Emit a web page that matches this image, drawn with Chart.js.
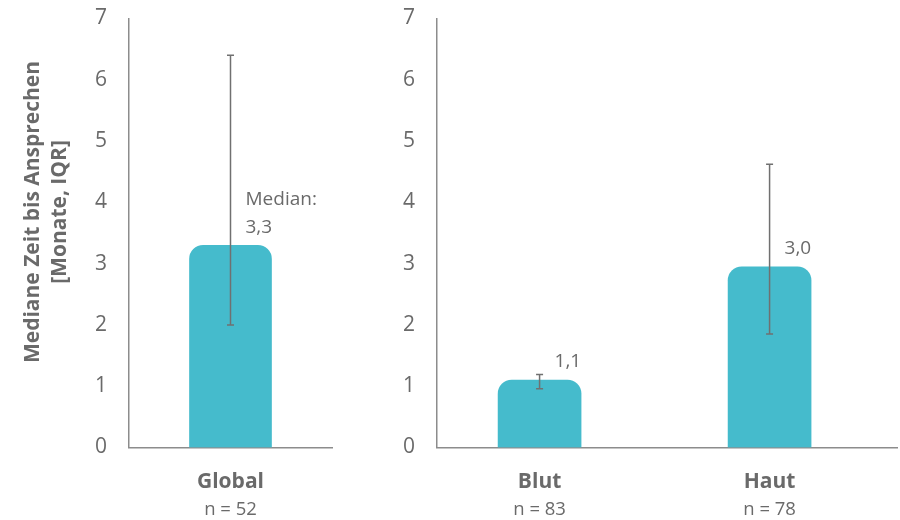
<!DOCTYPE html>
<html>
<head>
<meta charset="utf-8">
<script src="https://cdn.jsdelivr.net/npm/chart.js@4.4.1/dist/chart.umd.min.js"></script>
<style>
  html, body { margin: 0; padding: 0; background: #ffffff; }
  body { width: 900px; height: 520px; position: relative; overflow: hidden; }
  #leftWrap { position: absolute; left: 0; top: 0; width: 380px; height: 520px; }
  #rightWrap { position: absolute; left: 380px; top: 0; width: 520px; height: 520px; }
</style>
</head>
<body>
<div id="leftWrap"><canvas id="leftChart"></canvas></div>
<div id="rightWrap"><canvas id="rightChart"></canvas></div>
<script>
// ---- Data ----
const yTitleLines = ['Mediane Zeit bis Ansprechen', '[Monate, IQR]'];
const yMin = 0;
const yMax = 7;
const yStep = 1;

const leftCategories = ['Global'];
const leftN = ['n = 52'];
const leftMedian = [3.3];
const leftQ1 = [2.0];
const leftQ3 = [6.4];
const leftValueLabels = [['Median:', '3,3']];

const rightCategories = ['Blut', 'Haut'];
const rightN = ['n = 83', 'n = 78'];
const rightMedian = [1.1, 2.95];
const rightQ1 = [0.96, 1.85];
const rightQ3 = [1.19, 4.62];
const rightValueLabels = [['1,1'], ['3,0']];

// ---- Styles ----
const FONT = "'Open Sans', 'Noto Sans', sans-serif";
const TEXT = '#6a6a6a';
const AXIS = '#8c8c8c';
const BAR = '#45bbcc';
const ERR = '#707070';

Chart.defaults.font.family = FONT;
Chart.defaults.color = TEXT;
Chart.defaults.animation = false;
Chart.defaults.responsive = true;
Chart.defaults.maintainAspectRatio = false;

function errorBarPlugin(q1, q3) {
  return {
    id: 'errbars',
    afterDatasetsDraw(chart) {
      const meta = chart.getDatasetMeta(0);
      const ys = chart.scales.y;
      const ctx = chart.ctx;
      ctx.save();
      ctx.strokeStyle = ERR;
      ctx.lineWidth = 1.5;
      meta.data.forEach((bar, i) => {
        const x = bar.x;
        const yl = ys.getPixelForValue(q1[i]);
        const yh = ys.getPixelForValue(q3[i]);
        ctx.beginPath();
        ctx.moveTo(x, yl); ctx.lineTo(x, yh);
        ctx.moveTo(x - 3.5, yl); ctx.lineTo(x + 3.5, yl);
        ctx.moveTo(x - 3.5, yh); ctx.lineTo(x + 3.5, yh);
        ctx.stroke();
      });
      ctx.restore();
    }
  };
}

function valueLabelPlugin(labels) {
  return {
    id: 'vlabels',
    afterDatasetsDraw(chart) {
      const meta = chart.getDatasetMeta(0);
      const ctx = chart.ctx;
      ctx.save();
      ctx.fillStyle = TEXT;
      ctx.font = '19px ' + FONT;
      ctx.textAlign = 'left';
      ctx.textBaseline = 'middle';
      meta.data.forEach((bar, i) => {
        const lines = labels[i];
        const x = bar.x + 15;
        let y = bar.y - 18;
        for (let k = lines.length - 1; k >= 0; k--) {
          ctx.fillText(lines[k], x, y);
          y -= 28;
        }
      });
      ctx.restore();
    }
  };
}

function categoryLabelPlugin(cats, ns) {
  return {
    id: 'catlabels',
    afterDraw(chart) {
      const meta = chart.getDatasetMeta(0);
      const ctx = chart.ctx;
      const bottom = chart.chartArea.bottom;
      ctx.save();
      ctx.fillStyle = TEXT;
      ctx.textAlign = 'center';
      ctx.textBaseline = 'middle';
      meta.data.forEach((bar, i) => {
        const x = bar.x;
        ctx.font = 'bold 21px ' + FONT;
        ctx.fillText(cats[i], x, bottom + 35);
        ctx.font = '18.5px ' + FONT;
        ctx.fillText(ns[i], x, bottom + 62);
      });
      ctx.restore();
    }
  };
}

const yTitlePlugin = {
  id: 'ytitle',
  afterDraw(chart) {
    const ctx = chart.ctx;
    const cy = 212;
    ctx.save();
    ctx.fillStyle = TEXT;
    ctx.font = 'bold 21px ' + FONT;
    ctx.textAlign = 'center';
    ctx.textBaseline = 'middle';
    const xs = [33, 60];
    yTitleLines.forEach((t, i) => {
      ctx.save();
      ctx.translate(xs[i], cy);
      ctx.rotate(-Math.PI / 2);
      ctx.fillText(t, 0, 0);
      ctx.restore();
    });
    ctx.restore();
  }
};

function yScale(width) {
  return {
    min: yMin, max: yMax,
    grid: { display: false, drawTicks: false },
    border: { display: true, color: AXIS, width: 1.5 },
    ticks: { stepSize: yStep, padding: 22, color: TEXT, font: { size: 21, family: FONT } },
    afterFit(s) { s.width = width; s.paddingTop = 0; s.paddingBottom = 0; }
  };
}

function xScaleBase() {
  return {
    grid: { display: false, drawTicks: false },
    border: { display: true, color: AXIS, width: 1.5 },
    ticks: { display: false },
    afterFit(s) { s.height = 0; s.paddingLeft = 0; s.paddingRight = 0; }
  };
}

// ---- Left chart ----
new Chart(document.getElementById('leftChart'), {
  type: 'bar',
  data: {
    labels: leftCategories,
    datasets: [{
      data: leftMedian,
      backgroundColor: BAR,
      barThickness: 82,
      borderRadius: { topLeft: 14, topRight: 14, bottomLeft: 0, bottomRight: 0 },
      borderSkipped: false
    }]
  },
  options: {
    layout: { padding: { top: 18.5, bottom: 72.5, left: 0, right: 48 } },
    plugins: { legend: { display: false }, tooltip: { enabled: false } },
    scales: {
      x: xScaleBase(),
      y: yScale(129)
    }
  },
  plugins: [errorBarPlugin(leftQ1, leftQ3), valueLabelPlugin(leftValueLabels), categoryLabelPlugin(leftCategories, leftN), yTitlePlugin]
});

// ---- Right chart ----
new Chart(document.getElementById('rightChart'), {
  type: 'bar',
  data: {
    datasets: [{
      data: rightMedian.map((v, i) => ({ x: i, y: v })),
      backgroundColor: BAR,
      barThickness: 83,
      borderRadius: { topLeft: 14, topRight: 14, bottomLeft: 0, bottomRight: 0 },
      borderSkipped: false
    }]
  },
  options: {
    layout: { padding: { top: 18.5, bottom: 72.5, left: 0, right: 3 } },
    plugins: { legend: { display: false }, tooltip: { enabled: false } },
    scales: {
      x: Object.assign(xScaleBase(), { type: 'linear', min: -0.446, max: 1.554, offset: false }),
      y: yScale(57)
    }
  },
  plugins: [errorBarPlugin(rightQ1, rightQ3), valueLabelPlugin(rightValueLabels), categoryLabelPlugin(rightCategories, rightN)]
});
</script>
</body>
</html>
